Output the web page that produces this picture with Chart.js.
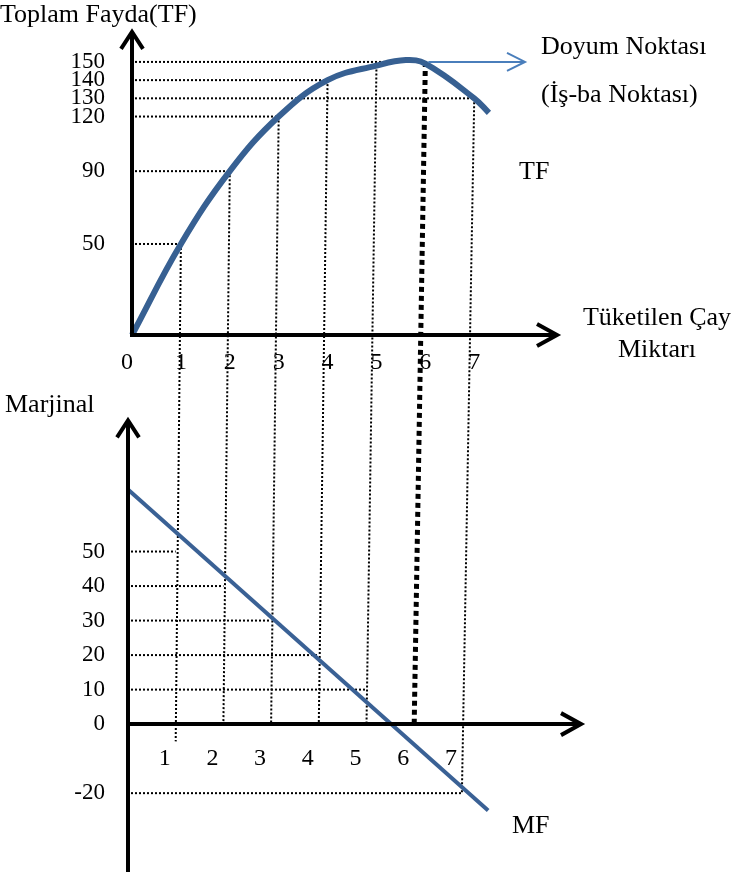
<!DOCTYPE html>
<html>
<head>
<meta charset="utf-8">
<script src="https://cdn.jsdelivr.net/npm/chart.js@4.4.1/dist/chart.umd.min.js"></script>
<style>
  html, body { margin: 0; padding: 0; background: #fff; }
</style>
</head>
<body>
<canvas id="diagram" width="734" height="872"></canvas>
<script>
// quantities of tea on the x axis
const qty = [0, 1, 2, 3, 4, 5, 6, 7];

// total utility curve (TF)
const tfX = [0, 1, 2, 3, 4, 5, 5.6, 6, 7, 7.3];
const tfY = [0, 50, 90, 120, 140, 148, 151, 149, 130, 122];

// marginal utility line (MF)
const mfX = [0, 7.55];
const mfY = [68, -25];

// tick labels
const tfTicks = [50, 90, 120, 130, 140, 150];
const mfTicks = [-20, 0, 10, 20, 30, 40, 50];

// dotted guide lines: quantity, TF level, MF level, where the connector stops below
const guideQty = [1, 2, 3, 4, 5, 6, 7];
const guideTF = [50, 90, 120, 140, 148, 150, 130];
const guideMF = [50, 40, 30, 20, 10, 0, -20];
const guideEnd = [-5, 0, 0, 0, 0, 0, -20];
const satiationQty = 6;

const SERIF = '"Liberation Serif", "Times New Roman", serif';

function seg(ctx, x1, y1, x2, y2) {
  ctx.beginPath();
  ctx.moveTo(x1, y1);
  ctx.lineTo(x2, y2);
  ctx.stroke();
}

function chevron(ctx, x, y, dir, len, half) {
  ctx.beginPath();
  if (dir === 'up') {
    ctx.moveTo(x - half, y + len); ctx.lineTo(x, y); ctx.lineTo(x + half, y + len);
  } else {
    ctx.moveTo(x - len, y - half); ctx.lineTo(x, y); ctx.lineTo(x - len, y + half);
  }
  ctx.stroke();
}

const diagramPlugin = {
  id: 'diagram',
  beforeDatasetsDraw(chart) {
    const { ctx } = chart;
    const s = chart.scales;
    const xT = v => s.x.getPixelForValue(v);
    const xB = v => s.xb.getPixelForValue(v);
    const yT = v => s.yT.getPixelForValue(v);
    const yB = v => s.yB.getPixelForValue(v);
    ctx.save();
    ctx.strokeStyle = '#000';
    ctx.lineWidth = 2;
    ctx.setLineDash([2, 2]);
    guideQty.forEach((q, i) => {
      const t = guideTF[i];
      const m = guideMF[i];
      if (tfTicks.includes(t)) seg(ctx, xT(0) + 3, yT(t), xT(q), yT(t));
      if (m !== 0) seg(ctx, xB(0) + 3, yB(m), xB(q), yB(m));
      if (q !== satiationQty) seg(ctx, xT(q), yT(t), xB(q), yB(guideEnd[i]));
    });
    // satiation point, thick dotted line
    const k = guideQty.indexOf(satiationQty);
    ctx.lineWidth = 5;
    ctx.setLineDash([5, 4]);
    seg(ctx, xT(satiationQty), yT(guideTF[k]), xB(satiationQty), yB(0));
    ctx.restore();
  },
  afterDatasetsDraw(chart) {
    const { ctx } = chart;
    const s = chart.scales;
    const xT = v => s.x.getPixelForValue(v);
    const xB = v => s.xb.getPixelForValue(v);
    const yT = v => s.yT.getPixelForValue(v);
    const yB = v => s.yB.getPixelForValue(v);
    ctx.save();
    ctx.strokeStyle = '#000';
    ctx.lineWidth = 4;
    ctx.lineJoin = 'miter';
    // top panel axes
    const topTip = yT(166.5);
    seg(ctx, xT(0), yT(0) + 2, xT(0), topTip + 2);
    chevron(ctx, xT(0), topTip, 'up', 17, 11);
    seg(ctx, xT(0) - 2, yT(0), 556, yT(0));
    chevron(ctx, 557, yT(0), 'right', 20, 11);
    // bottom panel axes
    const botTip = yB(88);
    seg(ctx, xB(0), chart.height, xB(0), botTip + 2);
    chevron(ctx, xB(0), botTip, 'up', 17, 11);
    seg(ctx, xB(0) - 2, yB(0), 580, yB(0));
    chevron(ctx, 581, yB(0), 'right', 20, 11);
    // satiation arrow
    const k = guideQty.indexOf(satiationQty);
    ctx.strokeStyle = '#4a7ebb';
    ctx.lineWidth = 2;
    seg(ctx, xT(satiationQty) + 3, yT(guideTF[k]), 524, yT(guideTF[k]));
    chevron(ctx, 525, yT(guideTF[k]), 'right', 18, 9);
    ctx.restore();
  },
  afterDraw(chart) {
    const { ctx } = chart;
    const s = chart.scales;
    const xT = v => s.x.getPixelForValue(v);
    const xB = v => s.xb.getPixelForValue(v);
    const yT = v => s.yT.getPixelForValue(v);
    const yB = v => s.yB.getPixelForValue(v);
    ctx.save();
    ctx.fillStyle = '#000';
    ctx.textBaseline = 'middle';
    ctx.font = '24px ' + SERIF;
    ctx.textAlign = 'center';
    qty.forEach(q => ctx.fillText(String(q), xT(q) - (q === 0 ? 5 : 0), yT(0) + 28));
    qty.slice(1).forEach(q => ctx.fillText(String(q), xB(q) - 11, yB(0) + 35));

    ctx.font = '26px ' + SERIF;
    ctx.textAlign = 'left';
    ctx.fillText('Toplam Fayda(TF)', 0, 15);
    ctx.fillText('Doyum Noktası', 541, 47);
    ctx.fillText('(İş-ba Noktası)', 541, 95);
    ctx.fillText('TF', 519, 172);
    ctx.fillText('Marjinal', 5, 405);
    ctx.fillText('MF', 512, 826);
    ctx.textAlign = 'center';
    ctx.fillText('Tüketilen Çay', 657, 318);
    ctx.fillText('Miktarı', 657, 350);
    ctx.restore();
  }
};

function yTicks(values) {
  return {
    afterBuildTicks: scale => { scale.ticks = values.map(v => ({ value: v })); },
    afterFit: scale => { scale.width = 60; },
    grid: { display: false, drawTicks: false },
    border: { display: false },
    ticks: {
      autoSkip: false,
      padding: 25,
      crossAlign: 'near',
      color: '#000',
      font: { family: SERIF, size: 23 }
    }
  };
}

// the tick padding reserves ~39px above and below the plot area
new Chart(document.getElementById('diagram').getContext('2d'), {
  type: 'line',
  data: {
    datasets: [
      {
        label: 'TF',
        data: tfX.map((x, i) => ({ x: x, y: tfY[i] })),
        xAxisID: 'x',
        yAxisID: 'yT',
        borderColor: '#376092',
        borderWidth: 6,
        pointRadius: 0,
        tension: 0.4,
        clip: false
      },
      {
        label: 'MF',
        data: mfX.map((x, i) => ({ x: x, y: mfY[i] })),
        xAxisID: 'xb',
        yAxisID: 'yB',
        borderColor: '#3a6195',
        borderWidth: 4,
        pointRadius: 0,
        clip: false
      }
    ]
  },
  options: {
    responsive: false,
    animation: false,
    devicePixelRatio: 1,
    layout: { padding: { left: 70, right: 160, top: 0, bottom: 0 } },
    plugins: { legend: { display: false }, tooltip: { enabled: false } },
    scales: {
      x: { type: 'linear', display: false, min: -0.041, max: 9.04 },
      xb: { type: 'linear', display: false, position: 'bottom', min: 0.042, max: 9.35 },
      // left boxes in a stack are placed in reverse order, so the lower panel comes first
      yB: Object.assign({ type: 'linear', position: 'left', stack: 'panels', stackWeight: 433.2, min: -31.6, max: 93.9 }, yTicks(mfTicks)),
      yT: Object.assign({ type: 'linear', position: 'left', stack: 'panels', stackWeight: 361.2, min: -35.7, max: 162.7 }, yTicks(tfTicks))
    }
  },
  plugins: [diagramPlugin]
});
</script>
</body>
</html>
